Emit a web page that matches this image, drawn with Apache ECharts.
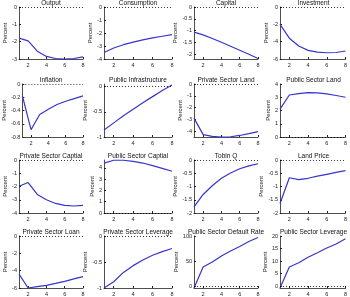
<!DOCTYPE html>
<html>
<head>
<meta charset="utf-8">
<script src="https://cdn.jsdelivr.net/npm/echarts@6.0.0/dist/echarts.min.js"></script>
<style>
  html, body { margin: 0; padding: 0; background: #fff; }
  #chart { width: 350px; height: 297px; }
</style>
</head>
<body>
<div id="chart"></div>
<script>
// impulse responses, quarters 1..8
var steps = [1, 2, 3, 4, 5, 6, 7, 8];
var xTicks = [2, 4, 6, 8];

var output = [-1.8, -1.95, -2.55, -2.85, -2.97, -3.0, -2.97, -2.88];
var consumption = [-3.5, -3.15, -2.9, -2.7, -2.53, -2.38, -2.25, -2.12];
var capital = [-1.06, -1.18, -1.33, -1.49, -1.66, -1.83, -2.0, -2.18];
var investment = [-2.0, -3.6, -4.5, -5.0, -5.2, -5.28, -5.25, -5.08];
var inflation = [-0.18, -0.69, -0.46, -0.38, -0.31, -0.26, -0.22, -0.18];
var publicInfra = [-0.86, -0.72, -0.58, -0.45, -0.32, -0.2, -0.08, 0.03];
var privateLand = [-2.9, -4.3, -4.45, -4.5, -4.48, -4.37, -4.22, -4.05];
var publicLand = [2.1, 3.17, 3.27, 3.35, 3.33, 3.25, 3.13, 3.0];
var privateCapital = [-1.98, -1.7, -2.6, -3.0, -3.28, -3.42, -3.47, -3.43];
var publicCapital = [4.42, 4.68, 4.68, 4.58, 4.43, 4.2, 3.96, 3.7];
var tobinQ = [-1.77, -1.3, -0.97, -0.69, -0.49, -0.33, -0.22, -0.14];
var landPrice = [-1.64, -0.67, -0.74, -0.69, -0.61, -0.54, -0.47, -0.4];
var privateLoan = [-4.4, -6.0, -5.85, -5.7, -5.47, -5.23, -4.95, -4.68];
var privateLeverage = [-1.0, -0.88, -0.7, -0.57, -0.46, -0.37, -0.3, -0.24];
var defaultRate = [-4, 38, 48, 60, 70, 79, 89, 97];
var publicLeverage = [-0.8, 7.6, 9.3, 11.5, 13.3, 15.2, 16.8, 18.9];

var titles = ['Output', 'Consumption', 'Capital', 'Investment',
  'Inflation', 'Public Infrastructure', 'Private Sector Land', 'Public Sector Land',
  'Private Sector Captial', 'Public Sector Captial', 'Tobin Q', 'Land Price',
  'Private Sector Loan', 'Private Sector Leverage', 'Public Sector Default Rate', 'Public Sector Leverage'];
var values = [output, consumption, capital, investment,
  inflation, publicInfra, privateLand, publicLand,
  privateCapital, publicCapital, tobinQ, landPrice,
  privateLoan, privateLeverage, defaultRate, publicLeverage];
var yMins = [-3, -4, -2.2, -6, -0.8, -1, -4.5, 0, -4, 0, -2, -2, -6, -1, -4, -0.8];
var yMaxs = [0, 0, 0, 0, 0, 0.05, 0, 4, 0, 4.7, 0, 0, 0, 0, 100, 20];
var yTicks = [
  [-3, -2, -1, 0], [-4, -3, -2, -1, 0], [-2, -1.5, -1, -0.5, 0], [-6, -4, -2, 0],
  [-0.8, -0.6, -0.4, -0.2, 0], [-1, -0.5, 0], [-4, -3, -2, -1, 0], [0, 1, 2, 3, 4],
  [-4, -3, -2, -1, 0], [0, 1, 2, 3, 4], [-2, -1.5, -1, -0.5, 0], [-2, -1.5, -1, -0.5, 0],
  [-6, -4, -2, 0], [-1, -0.5, 0], [0, 50, 100], [0, 5, 10, 15, 20]
];

// layout of the 4x4 subplot grid
var colLeft = [19, 104, 194, 280];
var colWidth = [64, 68, 64, 67];
var rowTop = [7, 84, 160, 236];
var rowHeight = 53;

var font = 'Liberation Sans, Arial, sans-serif';
var lineColor = '#3535cc';

var grids = [], xAxes = [], yAxes = [], series = [], titleList = [];

values.forEach(function (vals, i) {
    var r = Math.floor(i / 4), c = i % 4;
    grids.push({ left: colLeft[c], top: rowTop[r], width: colWidth[c], height: r === 0 ? rowHeight - 1 : rowHeight });

    var maxChars = Math.max.apply(null, yTicks[i].map(function (t) { return String(t).length; }));

    titleList.push({
        text: titles[i],
        left: colLeft[c] + colWidth[c] / 2,
        top: Math.max(0, rowTop[r] - 7.5),
        textAlign: 'center',
        padding: 0,
        textStyle: { fontSize: 6.5, fontWeight: 'normal', color: '#111', fontFamily: font }
    });

    xAxes.push({
        gridIndex: i, type: 'value', min: 1, max: 8,
        axisLine: { show: true, onZero: false, lineStyle: { color: '#222', width: 0.8 } },
        axisTick: { show: true, inside: true, length: 2, customValues: xTicks, lineStyle: { color: '#222' } },
        axisLabel: { fontSize: 5.5, color: '#222', margin: 3, fontFamily: font, customValues: xTicks },
        splitLine: { show: false }
    });

    yAxes.push({
        gridIndex: i, type: 'value', min: yMins[i], max: yMaxs[i],
        name: 'Percent', nameLocation: 'middle', nameGap: 3 + 2 * maxChars,
        nameTextStyle: { fontSize: 6, color: '#222', fontFamily: font },
        axisLine: { show: true, onZero: false, lineStyle: { color: '#222', width: 0.8 } },
        axisTick: { show: true, inside: true, length: 2, customValues: yTicks[i], lineStyle: { color: '#222' } },
        axisLabel: { fontSize: 5.5, color: '#222', margin: 2, fontFamily: font, customValues: yTicks[i] },
        splitLine: { show: false }
    });

    series.push({
        type: 'line', xAxisIndex: i, yAxisIndex: i,
        data: steps.map(function (s, k) { return [s, vals[k]]; }),
        showSymbol: false, clip: false,
        lineStyle: { color: lineColor, width: 1.2 },
        markLine: {
            silent: true, symbol: 'none', label: { show: false },
            lineStyle: { color: '#000', type: [1, 2], width: 0.8 },
            data: [{ yAxis: 0 }]
        }
    });
});

var chart = echarts.init(document.getElementById('chart'));
chart.setOption({
    animation: false,
    backgroundColor: '#fff',
    title: titleList,
    grid: grids,
    xAxis: xAxes,
    yAxis: yAxes,
    series: series
});
</script>
</body>
</html>
